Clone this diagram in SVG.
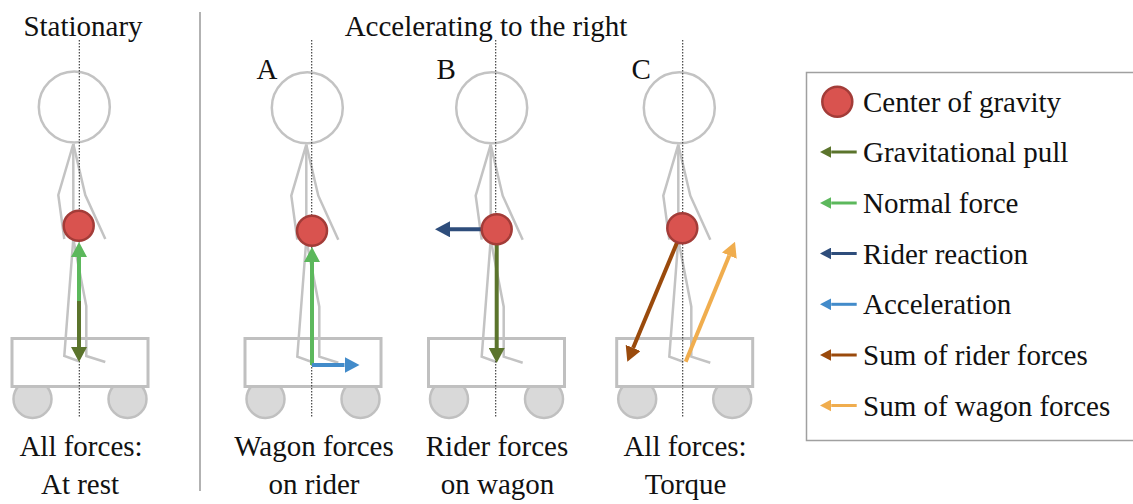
<svg xmlns="http://www.w3.org/2000/svg" width="1133" height="504" viewBox="0 0 1133 504">
  <style>
    text { font-size: 29px; fill: #111; }
    .mid { text-anchor: middle; }
    .wheel { fill: #d9d9d9; stroke: #c0c0c0; stroke-width: 2.5; }
    .wagon { fill: #fff; stroke: #c0c0c0; stroke-width: 3; }
    .body { fill: none; stroke: #c3c3c3; stroke-width: 2.5; stroke-linejoin: miter; }
    .head { fill: #fff; stroke: #c3c3c3; stroke-width: 2.5; }
    .axis { stroke: #333; stroke-width: 1.1; stroke-dasharray: 1.5 1.5; }
    .cog { fill: #d9534f; stroke: #a33c38; stroke-width: 2.5; }
    .sep { stroke: #999; stroke-width: 1.5; }
    .f { fill: none; stroke-width: 4; }
    .lg { fill: none; stroke-width: 3; }
    .grav { stroke: #5b742c; }
    .norm { stroke: #5cb85c; }
    .react { stroke: #2e4d7b; }
    .accel { stroke: #428bca; }
    .rider { stroke: #9a4a0c; }
    .wag { stroke: #f0ad4e; }
  </style>
  <defs>
    <marker id="hGrav" viewBox="0 0 15 16" markerWidth="3.75" markerHeight="4" refX="0" refY="8" orient="auto"><path d="M0,0 L15,8 L0,16 z" fill="#5b742c"/></marker>
    <marker id="hNorm" viewBox="0 0 15 16" markerWidth="3.75" markerHeight="4" refX="0" refY="8" orient="auto"><path d="M0,0 L15,8 L0,16 z" fill="#5cb85c"/></marker>
    <marker id="hReact" viewBox="0 0 15 16" markerWidth="3.75" markerHeight="4" refX="0" refY="8" orient="auto"><path d="M0,0 L15,8 L0,16 z" fill="#2e4d7b"/></marker>
    <marker id="hAccel" viewBox="0 0 15 16" markerWidth="3.75" markerHeight="4" refX="0" refY="8" orient="auto"><path d="M0,0 L15,8 L0,16 z" fill="#428bca"/></marker>
    <marker id="hRider" viewBox="0 0 15 16" markerWidth="3.75" markerHeight="4" refX="0" refY="8" orient="auto"><path d="M0,0 L15,8 L0,16 z" fill="#9a4a0c"/></marker>
    <marker id="hWag" viewBox="0 0 15 16" markerWidth="3.75" markerHeight="4" refX="0" refY="8" orient="auto"><path d="M0,0 L15,8 L0,16 z" fill="#f0ad4e"/></marker>

    <!-- wagon with wheels, drawn about its horizontal centre -->
    <g id="wagonShape">
      <circle class="wheel" cx="-47.5" cy="399" r="19"/>
      <circle class="wheel" cx="47.5" cy="399" r="19"/>
      <rect class="wagon" x="-68" y="338.5" width="136" height="48"/>
    </g>
    <!-- stick rider, origin at head centre -->
    <g id="rider">
      <circle class="head" cx="0" cy="0" r="35.5"/>
      <polyline class="body" points="-1,37 -1,132"/>
      <polyline class="body" points="-1,37 -16,88 -10,132"/>
      <polyline class="body" points="-1,37 11,88 31,132"/>
      <polyline class="body" points="-1,132 -10,249 4,254"/>
      <polyline class="body" points="-1,132 12,199 12,249 31,255"/>
    </g>
  </defs>

  <g font-family="Liberation Serif, Tinos, DejaVu Serif, Noto Serif, serif">

  <!-- headings and divider -->
  <text class="mid" x="83" y="36">Stationary</text>
  <text class="mid" x="486" y="36">Accelerating to the right</text>
  <line class="sep" x1="200" y1="12" x2="200" y2="491"/>

  <!-- Stationary -->
  <g id="stationary">
    <use href="#wagonShape" x="80"/>
    <use href="#rider" x="74.3" y="107"/>
    <line class="axis" x1="79.3" y1="40" x2="79.3" y2="417"/>
    <text class="mid" x="81" y="456">All forces:</text>
    <text class="mid" x="80" y="494">At rest</text>
  </g>

  <!-- A: wagon forces on rider -->
  <g id="panelA">
    <use href="#wagonShape" x="313"/>
    <use href="#rider" x="307.3" y="107.7"/>
    <line class="axis" x1="311.7" y1="40" x2="311.7" y2="417"/>
    <text x="256.5" y="78.5">A</text>
    <text class="mid" x="314" y="456">Wagon forces</text>
    <text class="mid" x="314" y="494">on rider</text>
  </g>

  <!-- B: rider forces on wagon -->
  <g id="panelB">
    <use href="#wagonShape" x="496.5"/>
    <use href="#rider" x="491.7" y="107.7"/>
    <line class="axis" x1="495.7" y1="40" x2="495.7" y2="417"/>
    <text x="436.5" y="78.5">B</text>
    <text class="mid" x="497" y="456">Rider forces</text>
    <text class="mid" x="497.5" y="494">on wagon</text>
  </g>

  <!-- C: all forces, torque -->
  <g id="panelC">
    <use href="#wagonShape" x="684.7"/>
    <use href="#rider" x="679.3" y="107.7"/>
    <line class="axis" x1="682.7" y1="40" x2="682.7" y2="417"/>
    <text x="631.5" y="78.5">C</text>
    <text class="mid" x="685" y="456">All forces:</text>
    <text class="mid" x="685.5" y="494">Torque</text>
  </g>

  <!-- force arrows -->
  <g id="connectors">
    <line class="f norm" x1="79" y1="301" x2="79" y2="257" marker-end="url(#hNorm)"/>
    <line class="f grav" x1="79" y1="301" x2="79" y2="347" marker-end="url(#hGrav)"/>

    <line class="f norm" x1="312" y1="365" x2="312" y2="262" marker-end="url(#hNorm)"/>
    <line class="f accel" x1="312" y1="365" x2="344.5" y2="365" marker-end="url(#hAccel)"/>

    <line class="f react" x1="496.7" y1="229.3" x2="450" y2="229.3" marker-end="url(#hReact)"/>
    <line class="f grav" x1="496.7" y1="229.3" x2="496.7" y2="348" marker-end="url(#hGrav)"/>

    <line class="f rider" x1="683" y1="228.3" x2="633.1" y2="347.9" marker-end="url(#hRider)"/>
    <line class="f wag" x1="685.7" y1="361.7" x2="729.3" y2="255.6" marker-end="url(#hWag)"/>
  </g>

  <!-- centres of gravity -->
  <g id="cogs">
    <circle class="cog" cx="78.7" cy="225.7" r="15"/>
    <circle class="cog" cx="312" cy="230.7" r="15"/>
    <circle class="cog" cx="496.7" cy="229.3" r="15"/>
    <circle class="cog" cx="682.3" cy="228.3" r="15"/>
  </g>

  <!-- legend -->
  <g id="legend">
    <rect x="806.5" y="72.5" width="340" height="368" fill="#fff" stroke="#a0a0a0" stroke-width="1.5"/>
    <circle class="cog" cx="837.3" cy="101.7" r="15"/>
    <text x="863" y="111.7">Center of gravity</text>
    <line class="lg grav" x1="856.7" y1="152" x2="831.25" y2="152" marker-end="url(#hGrav)"/>
    <text x="863" y="162">Gravitational pull</text>
    <line class="lg norm" x1="856.7" y1="203" x2="831.25" y2="203" marker-end="url(#hNorm)"/>
    <text x="863" y="213">Normal force</text>
    <line class="lg react" x1="856.7" y1="253.5" x2="831.25" y2="253.5" marker-end="url(#hReact)"/>
    <text x="863" y="263.5">Rider reaction</text>
    <line class="lg accel" x1="856.7" y1="304.3" x2="831.25" y2="304.3" marker-end="url(#hAccel)"/>
    <text x="863" y="314.3">Acceleration</text>
    <line class="lg rider" x1="856.7" y1="355" x2="831.25" y2="355" marker-end="url(#hRider)"/>
    <text x="863" y="365">Sum of rider forces</text>
    <line class="lg wag" x1="856.7" y1="405.5" x2="831.25" y2="405.5" marker-end="url(#hWag)"/>
    <text x="863" y="415.5">Sum of wagon forces</text>
  </g>

  </g>
</svg>
